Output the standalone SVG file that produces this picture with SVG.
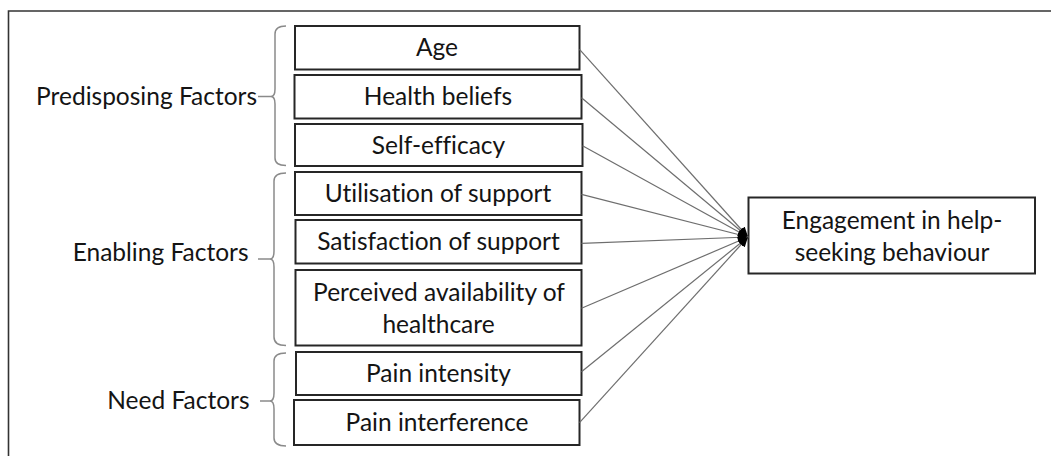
<svg xmlns="http://www.w3.org/2000/svg" width="1051" height="456" viewBox="0 0 1051 456">
  <style>
    .frame { fill: none; stroke: #333333; stroke-width: 1.6; }
    .box { fill: #ffffff; stroke: #262626; stroke-width: 2; }
    .brace { fill: none; stroke: #8a8a8a; stroke-width: 1.5; }
    .link { fill: none; stroke: #6e6e6e; stroke-width: 1.2; marker-end: url(#head); }
    text { font-family: Lato, "Liberation Sans", sans-serif; font-size: 24.5px; fill: #141414; font-variant-ligatures: none; }
    .mid { text-anchor: middle; }
    .end { text-anchor: end; }
  </style>
  <defs>
    <marker id="head" markerUnits="userSpaceOnUse" markerWidth="12" markerHeight="12" refX="10" refY="6" orient="auto">
      <path d="M0,1.5 L10,6 L0,10.5 Z" fill="#000000"/>
    </marker>
  </defs>

  <rect width="1051" height="456" fill="#ffffff"/>
  <path class="frame" d="M8.5,456 V11 H1051"/>

  <!-- group labels with their braces -->
  <g id="predisposing">
    <text class="end" x="257" y="105">Predisposing Factors</text>
    <path class="brace" d="M258,96.5 H271 M286,26 Q275,26 275,34 V89 Q275,96.5 271,96.5 Q275,96.5 275,104 V158 Q275,165.5 286,165.5"/>
  </g>
  <g id="enabling">
    <text class="end" x="248.5" y="261">Enabling Factors</text>
    <path class="brace" d="M258,259 H271 M286,173 Q274,173 274,181 V251 Q274,259 270,259 Q274,259 274,267 V337 Q274,345.5 286,345.5"/>
  </g>
  <g id="need">
    <text class="end" x="249.5" y="408.5">Need Factors</text>
    <path class="brace" d="M260,401 H271 M286,353 Q274,353 274,361 V393 Q274,401 270,401 Q274,401 274,409 V438 Q274,446 286,446"/>
  </g>

  <!-- factor boxes -->
  <g id="age">
    <rect class="box" x="295" y="26" width="284.5" height="43.5"/>
    <text class="mid" x="437" y="56">Age</text>
  </g>
  <g id="health-beliefs">
    <rect class="box" x="294.5" y="75" width="287" height="43.5"/>
    <text class="mid" x="438" y="105">Health beliefs</text>
  </g>
  <g id="self-efficacy">
    <rect class="box" x="295" y="124" width="287.5" height="42"/>
    <text class="mid" x="438.5" y="153.5">Self-efficacy</text>
  </g>
  <g id="utilisation">
    <rect class="box" x="295" y="172" width="286.5" height="43"/>
    <text class="mid" x="438" y="202">Utilisation of support</text>
  </g>
  <g id="satisfaction">
    <rect class="box" x="295.5" y="220" width="286" height="43.5"/>
    <text class="mid" x="438.5" y="250">Satisfaction of support</text>
  </g>
  <g id="availability">
    <rect class="box" x="295.5" y="270" width="286" height="75.5"/>
    <text class="mid" x="439" y="301">Perceived availability of</text>
    <text class="mid" x="438.5" y="333">healthcare</text>
  </g>
  <g id="pain-intensity">
    <rect class="box" x="296" y="352" width="285.5" height="43"/>
    <text class="mid" x="438.5" y="382">Pain intensity</text>
  </g>
  <g id="pain-interference">
    <rect class="box" x="294" y="400" width="285.5" height="45"/>
    <text class="mid" x="437" y="431">Pain interference</text>
  </g>

  <!-- outcome box -->
  <g id="engagement">
    <rect class="box" x="748.5" y="197.5" width="286.5" height="76"/>
    <text class="mid" x="892" y="228.5">Engagement in help-</text>
    <text class="mid" x="892" y="260.5">seeking behaviour</text>
  </g>

  <!-- connectors: every factor points at the outcome -->
  <g id="connectors">
    <line class="link" x1="579.5" y1="49.3" x2="748" y2="237"/>
    <line class="link" x1="581.5" y1="97.7" x2="748" y2="237"/>
    <line class="link" x1="582.5" y1="145.7" x2="748" y2="237"/>
    <line class="link" x1="581.5" y1="194.3" x2="748" y2="237"/>
    <line class="link" x1="581.5" y1="243.3" x2="748" y2="237"/>
    <line class="link" x1="581.5" y1="308.3" x2="748" y2="237"/>
    <line class="link" x1="581.5" y1="371.7" x2="748" y2="237"/>
    <line class="link" x1="579.5" y1="422.7" x2="748" y2="237"/>
  </g>
</svg>
